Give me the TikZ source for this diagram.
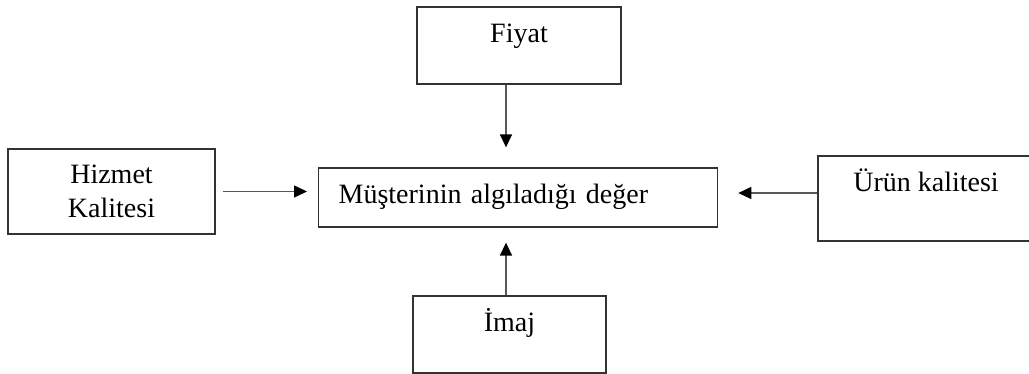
\documentclass[tikz,border=0pt]{standalone}
\usepackage{fontspec}
\setmainfont{Liberation Serif}
\usetikzlibrary{arrows.meta}
\begin{document}
\begin{tikzpicture}[x=1pt,y=-1pt,
  box/.style={draw=black!80, line width=1.3pt, inner sep=0pt, font=\fontsize{28}{34}\selectfont},
  arr/.style={draw=black!65, line width=1.5pt, -{Triangle[length=13pt,width=12pt,color=black]}}]
\useasboundingbox (0,0) rectangle (1029,374);
\node[box, minimum width=204pt, text height=36pt, text depth=41pt, anchor=base] (fiyat) at (519,43) {Fiyat};
\node[box, minimum width=193pt, text height=36pt, text depth=41pt, anchor=base] (imaj) at (509.5,332) {İmaj};
\node[box, minimum width=216pt, text height=36pt, text depth=49pt, anchor=base] (urun) at (926,192) {Ürün kalitesi};
\node[box, minimum width=207pt, minimum height=85pt, align=center] (hiz) at (111.5,191.5) {Hizmet\\Kalitesi};
\node[box, inner xsep=20pt, text width=359pt, align=left, text height=36pt, text depth=23pt, anchor=base west] (ctr) at (318,204) {Müşterinin algıladığı değer};
\draw[arr, shorten >=20pt] ([xshift=-13pt]fiyat.south) -- ([xshift=-13pt]fiyat.south |- ctr.north);
\draw[arr, shorten >=15pt] ([xshift=-3.5pt]imaj.north) -- ([xshift=-3.5pt]imaj.north |- ctr.south);
\draw[arr, shorten <=7pt, shorten >=11pt] (hiz.east) -- (hiz.east -| ctr.west);
\draw[arr, shorten >=20pt] ([yshift=5.5pt]urun.west) -- ([yshift=5.5pt]urun.west -| ctr.east);
\end{tikzpicture}
\end{document}
